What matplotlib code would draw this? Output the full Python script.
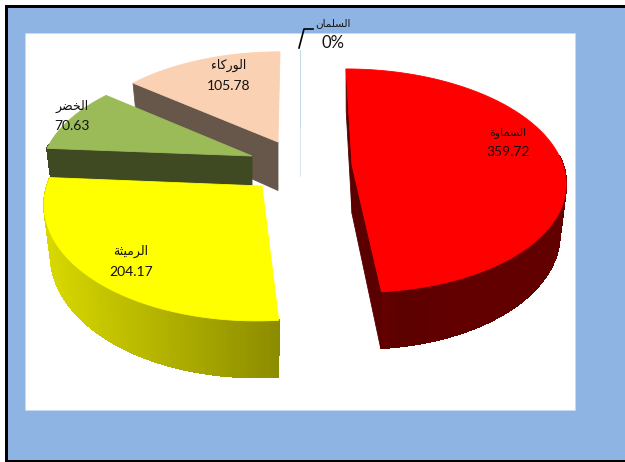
import numpy as np
import matplotlib
matplotlib.use("Agg")
import matplotlib.pyplot as plt
from matplotlib.collections import PolyCollection
from matplotlib.colors import to_rgb
from matplotlib.patches import Polygon, Rectangle

# order of the slices, clockwise from 12 o'clock
names = ["السماوة", "الرميثة", "الخضر", "الوركاء", "السلمان"]
values = [359.72, 204.17, 70.63, 105.78, 0.0]

plt.rcParams['font.family'] = ['Lato', 'DejaVu Sans']

# iso, final, init, medial
FORMS = {
    'ء': (0xFE80, 0xFE80, 0xFE80, 0xFE80),
    'ا': (0xFE8D, 0xFE8E, 0xFE8D, 0xFE8E),
    'ة': (0xFE93, 0xFE94, 0xFE93, 0xFE94),
    'ث': (0xFE99, 0xFE9A, 0xFE9B, 0xFE9C),
    'خ': (0xFEA5, 0xFEA6, 0xFEA7, 0xFEA8),
    'ر': (0xFEAD, 0xFEAE, 0xFEAD, 0xFEAE),
    'س': (0xFEB1, 0xFEB2, 0xFEB3, 0xFEB4),
    'ض': (0xFEBD, 0xFEBE, 0xFEBF, 0xFEC0),
    'ك': (0xFED9, 0xFEDA, 0xFEDB, 0xFEDC),
    'ل': (0xFEDD, 0xFEDE, 0xFEDF, 0xFEE0),
    'م': (0xFEE1, 0xFEE2, 0xFEE3, 0xFEE4),
    'ن': (0xFEE5, 0xFEE6, 0xFEE7, 0xFEE8),
    'و': (0xFEED, 0xFEEE, 0xFEED, 0xFEEE),
    'ي': (0xFEF1, 0xFEF2, 0xFEF3, 0xFEF4),
}
NO_LEFT_JOIN = 'ءاةرو'


def shape(word):
    # matplotlib has no arabic shaping, so pick the joined glyphs and reverse
    out = []
    for i, ch in enumerate(word):
        joins_prev = i > 0 and word[i - 1] not in NO_LEFT_JOIN
        joins_next = i < len(word) - 1 and ch not in NO_LEFT_JOIN
        form = {(False, False): 0, (True, False): 1, (False, True): 2, (True, True): 3}[(joins_prev, joins_next)]
        out.append(chr(FORMS[ch][form]))
    return ''.join(reversed(out))


def mix(stops, t):
    pos = np.linspace(0, 1, len(stops))
    rgb = np.array([to_rgb(c) for c in stops])
    return tuple(np.interp(t, pos, rgb[:, i]) for i in range(3))


K = 0.14
SHRINK = 0.97
DEPTH = 48.5

# pixel placement of every exploded slice
views = [
    dict(ox=352, oy=165, a=211, b=109.5, c=6.8, top='#FF0000', cut='#5A0000',
         side=['#7A0000', '#5C0000', '#620000', '#620000', '#620000'], cuts=(True, True), z=2),
    dict(ox=262, oy=186, a=215, b=116, c=-4.6, top='#FFFF00', cut='#8C8C00',
         side=['#D8D800', '#8C8C00'], cuts=(False, False), z=6),
    dict(ox=252, oy=156, a=208, b=105.7, c=-6.5, top='#9BBB59', cut='#3F4A22',
         side=['#3F4A22', '#3F4A22'], cuts=(True, False), z=5),
    dict(ox=278, oy=142, a=203.4, b=102.8, c=-2.3, top='#FAD1B3', cut='#66574A',
         side=['#66574A', '#66574A'], cuts=(True, False), z=3),
    dict(ox=300, oy=127, a=200, b=88, c=0, top='#BBD9E8', cut='#D5E6EE',
         side=['#D5E6EE', '#D5E6EE'], cuts=(True, False), z=4),
]
label_pos = [(508, 132, 152), (131, 251, 272), (72, 106, 126), (229, 65, 86), (333, 23, 43)]
name_size = [8, 9, 9, 9, 7.5]
value_size = [10, 10, 10, 10, 12]


def project(v, theta):
    u_, v_ = np.sin(theta), -np.cos(theta)
    w = 1 - K * v_
    x = v['ox'] + (v['a'] * u_ + v['c'] * v_) / w
    y = v['oy'] + v['b'] * v_ / w
    bx = v['ox'] + SHRINK * (x - v['ox'])
    by = y + DEPTH / w
    return x, y, bx, by, v_


fig = plt.figure(figsize=(6.25, 4.62), dpi=100, facecolor='white')
ax = fig.add_axes([0, 0, 1, 1])
ax.set_xlim(0, 625)
ax.set_ylim(462, 0)
ax.axis('off')

# slide background
ax.add_patch(Rectangle((5, 5), 620, 457, fc='#8EB4E3', ec='none', zorder=0))
ax.add_patch(Rectangle((5, 5), 620, 3, fc='black', ec='none', zorder=0.5))
ax.add_patch(Rectangle((5, 5), 3, 457, fc='black', ec='none', zorder=0.5))
ax.add_patch(Rectangle((5, 460), 620, 2, fc='black', ec='none', zorder=0.5))
ax.add_patch(Rectangle((25, 33), 550, 377, fc='white', ec='#C6D9F1', lw=0.5, zorder=1))

total = sum(values)
edges = np.radians(np.concatenate([[0], np.cumsum(values)]) / total * 360)

for i, v in enumerate(views):
    z = v['z']
    start, end = edges[i], edges[i + 1]
    thetas = np.linspace(start, end, 120)
    x, y, bx, by, depth_v = project(v, thetas)

    # outer wall, shaded along x
    quads, colors = [], []
    lo, hi = bx.min(), bx.max()
    for j in range(len(thetas) - 1):
        if depth_v[j] < -0.1:
            continue
        quads.append([(x[j], y[j]), (x[j + 1], y[j + 1]), (bx[j + 1], by[j + 1]), (bx[j], by[j])])
        colors.append(mix(v['side'], (bx[j] - lo) / max(hi - lo, 1)))
    if quads:
        ax.add_collection(PolyCollection(quads, facecolors=colors, edgecolors=colors, linewidths=0.8,
                                         antialiaseds=False, zorder=z))

    # cut faces
    for flag, t in zip(v['cuts'], (start, end)):
        if flag:
            px, py, qx, qy, _ = project(v, t)
            ax.add_patch(Polygon([(v['ox'], v['oy']), (px, py), (qx, qy), (v['ox'], v['oy'] + DEPTH)],
                                 fc=v['cut'], ec=v['cut'], lw=0.6, zorder=z))

    ax.add_patch(Polygon(list(zip(x, y)) + [(v['ox'], v['oy'])], fc=v['top'], ec=v['top'], lw=0.6, zorder=z + 0.1))

# leader for the empty slice
ax.plot([299, 304, 313], [48, 29, 29], color='black', lw=1.2, zorder=8)

for i, name in enumerate(names):
    lx, ly1, ly2 = label_pos[i]
    label = f"{values[i]:.2f}" if values[i] > 0 else "0%"
    ax.text(lx, ly1, shape(name), ha='center', va='center', fontsize=name_size[i], color='#111111', zorder=9)
    ax.text(lx, ly2, label, ha='center', va='center', fontsize=value_size[i], color='#111111', zorder=9)

fig.savefig('out.png', dpi=100)
